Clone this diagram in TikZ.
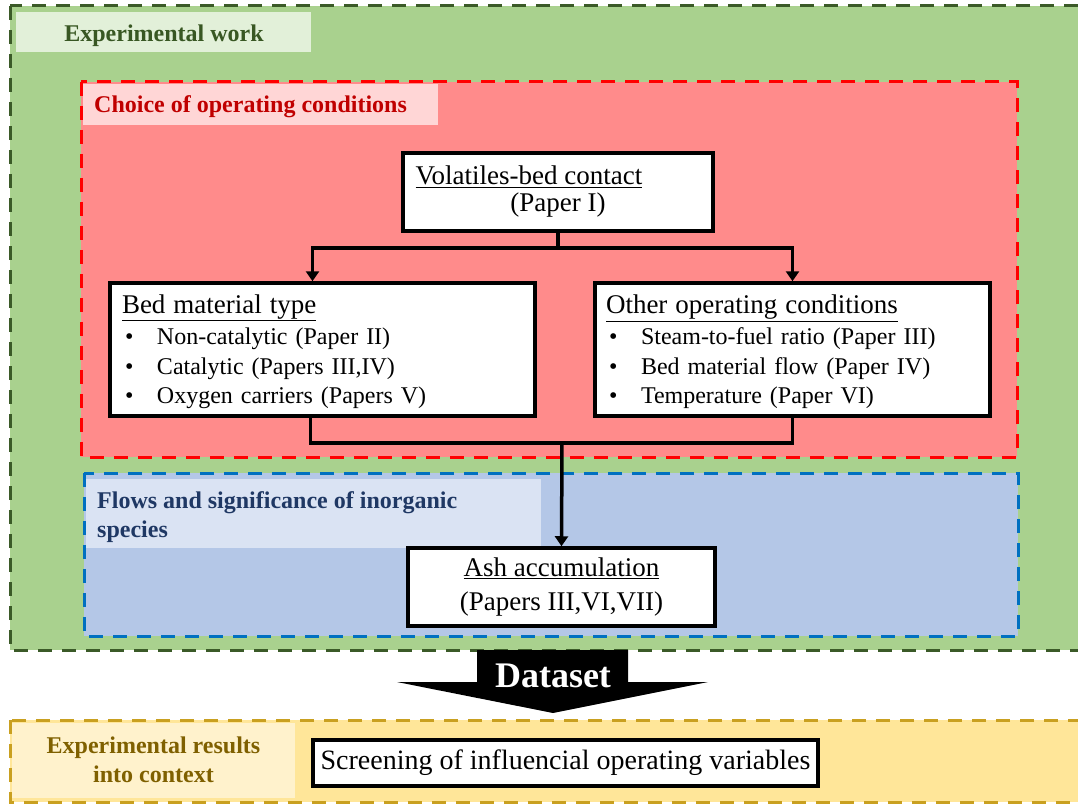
\documentclass[tikz,border=0pt]{standalone}
\usepackage{fontspec}
\setmainfont{Liberation Serif}
\usetikzlibrary{arrows.meta}
\definecolor{grfill}{HTML}{A9D18E}
\definecolor{grlab}{HTML}{E2F0D9}
\definecolor{grtext}{HTML}{385723}
\definecolor{grline}{HTML}{3B5A28}
\definecolor{rdfill}{HTML}{FF8B8B}
\definecolor{rdlab}{HTML}{FFD6D6}
\definecolor{rdtext}{HTML}{C00000}
\definecolor{rdline}{HTML}{FF0000}
\definecolor{blfill}{HTML}{B4C7E7}
\definecolor{bllab}{HTML}{DAE3F3}
\definecolor{bltext}{HTML}{1F3864}
\definecolor{blline}{HTML}{0070C0}
\definecolor{yefill}{HTML}{FFE699}
\definecolor{yelab}{HTML}{FFF2CC}
\definecolor{yetext}{HTML}{7F6000}
\definecolor{yeline}{HTML}{C9A020}
\newcommand\bulitem[1]{\hspace*{3pt}\makebox[32pt][l]{\textbullet}#1}
\begin{document}
\begin{tikzpicture}[x=1pt,y=-1pt,
  region/.style={line width=3pt, dash pattern=on 14pt off 10pt},
  lab/.style={inner sep=0pt, font=\fontsize{24}{29}\selectfont\bfseries},
  box/.style={draw=black, fill=white, line width=3.5pt, inner sep=0pt},
  conn/.style={line width=3.5pt, draw=black},
  arr/.style={conn, -{Triangle[length=10pt,width=13pt]}}
]
\clip (0,0) rectangle (1078,805);
\fill[white] (0,0) rectangle (1078,805);

% regions
\draw[region, fill=grfill, draw=grline] (10,6) rectangle (1100,650);
\fill[grlab] (16,12) rectangle (311,52);
\node[lab, text=grtext, anchor=base] (glab) at (164,42) {Experimental work};

\draw[region, fill=rdfill, draw=rdline] (81,82) rectangle (1017,457);
\fill[rdlab] (83,84) rectangle (438,125);
\node[lab, text=rdtext, anchor=base west] (rlab) at (94,113) {Choice of operating conditions};

\draw[region, fill=blfill, draw=blline] (84,473) rectangle (1018,636);
\fill[bllab] (86,479) rectangle (541,548);
\node[lab, text=bltext, anchor=base west, align=left] (blab) at (97,537) {Flows and significance of inorganic\\species};

\draw[region, fill=yefill, draw=yeline] (10,720) rectangle (1100,802);
\fill[yelab] (12,723) rectangle (295,798);
\node[lab, text=yetext, anchor=base, align=center] (ylab) at (153.5,782) {Experimental results\\into context};

% boxes
\node[box, minimum width=310pt, minimum height=78pt, align=center, font=\fontsize{27}{27}\selectfont] (vol) at (558,192)
  {\underline{Volatiles-bed contact}\hspace*{58pt}\\(Paper I)};

\node[box, minimum height=133pt, text width=401pt, inner xsep=12pt, align=left, font=\fontsize{24}{29.3}\selectfont] (bed) at (322.5,349.5)
  {{\fontsize{27}{29.3}\selectfont\rule{0pt}{23pt}\underline{Bed material type}}\\[2pt]
   \bulitem{Non-catalytic (Paper II)}\\
   \bulitem{Catalytic (Papers III,IV)}\\
   \bulitem{Oxygen carriers (Papers V)}};

\node[box, minimum height=133pt, text width=373pt, inner xsep=11pt, align=left, font=\fontsize{24}{29.3}\selectfont] (oth) at (792.5,349.5)
  {{\fontsize{27}{29.3}\selectfont\rule{0pt}{23pt}\underline{Other operating conditions}}\\[2pt]
   \bulitem{Steam-to-fuel ratio (Paper III)}\\
   \bulitem{Bed material flow (Paper IV)}\\
   \bulitem{Temperature (Paper VI)}};

\node[box, minimum width=307pt, minimum height=78pt, align=center, font=\fontsize{27}{34}\selectfont] (ash) at (561.5,587)
  {\underline{Ash accumulation}\\(Papers III,VI,VII)};

\node[box, minimum width=505pt, minimum height=46pt, font=\fontsize{28}{28}\selectfont] (scr) at (565.5,763)
  {Screening of influencial operating variables};

% connectors
\coordinate (fork) at (558,248);
\draw[conn] (vol.south) -- (fork);
\draw[arr] (fork) -| ([xshift=-10pt]bed.north);
\draw[arr] (fork) -| (oth.north);
\coordinate (join) at (562,443);
\draw[conn] ([xshift=-12pt]bed.south) |- (join);
\draw[conn] (oth.south) |- (join);
\draw[arr] (join) -- (ash.north);

% dataset arrow
\fill[black] (477,650) -- (628,650) -- (628,682) -- (708,682) -- (553,713) -- (397,682) -- (477,682) -- cycle;
\node[anchor=base, text=white, font=\fontsize{36}{36}\selectfont\bfseries, inner sep=0pt] (ds) at (553,687) {Dataset};
\end{tikzpicture}
\end{document}
